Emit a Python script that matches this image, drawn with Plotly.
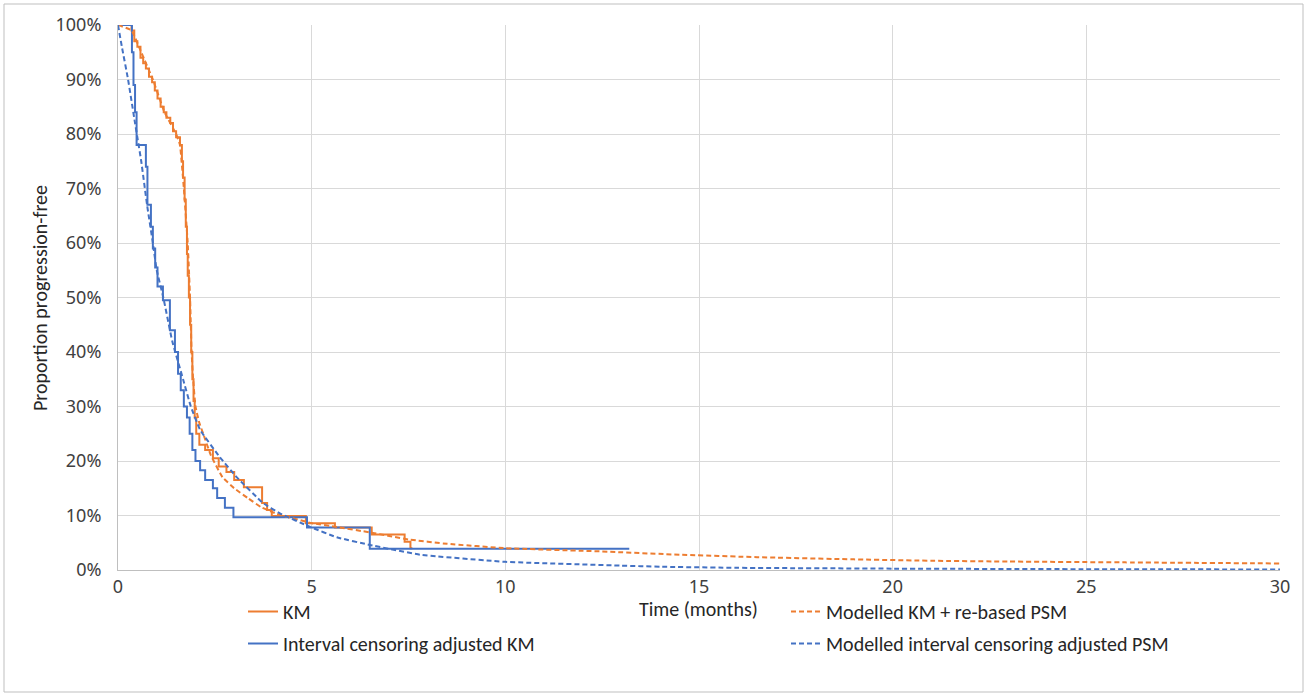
import plotly.graph_objects as go

# Kaplan-Meier estimate (months, % progression-free), step function
km_t = [0, 0.35, 0.42, 0.50, 0.58, 0.65, 0.72, 0.80, 0.88, 0.95, 1.02, 1.10, 1.18,
        1.25, 1.35, 1.42, 1.50, 1.60, 1.65, 1.68, 1.72, 1.75, 1.78, 1.80, 1.83, 1.86,
        1.89, 1.92, 1.95, 1.98, 2.02, 2.10, 2.25, 2.45, 2.60, 2.80, 3.00, 3.25, 3.72,
        3.85, 3.97, 4.85, 5.60, 6.55, 7.40, 7.55, 7.60]
km_s = [100, 99, 97, 96, 94, 93, 92, 90.5, 89.5, 88, 86.5, 85, 84,
        83, 82, 80.5, 79.4, 78, 75, 72, 68, 63, 58, 54, 50, 45,
        40, 35, 31, 28, 25, 23, 22, 20.5, 19, 18, 16.5, 15.2, 12.3,
        11, 9.9, 8.6, 7.8, 6.5, 5.2, 4.0, 4.0]

# Interval censoring adjusted KM
ic_t = [0, 0.36, 0.40, 0.44, 0.48, 0.72, 0.76, 0.85, 0.90, 0.96, 1.02, 1.16, 1.34,
        1.47, 1.55, 1.62, 1.70, 1.78, 1.85, 1.92, 2.00, 2.12, 2.25, 2.45, 2.56, 2.76,
        2.98, 4.88, 6.50, 13.2]
ic_s = [100, 95, 89, 84, 78, 74, 67, 63, 59, 55.5, 52, 49.5, 44,
        40, 36, 33, 30, 28, 25, 22, 20, 18.3, 16.5, 15, 13.2, 11.4,
        9.7, 7.8, 3.9, 3.9]

# Modelled KM + re-based parametric survival model
mkm_t = [0, 0.35, 0.6, 0.9, 1.2, 1.5, 1.6, 1.7, 1.8, 1.86, 1.9, 1.94, 2.0, 2.1, 2.2,
         2.4, 2.7, 3.0, 3.35, 3.7, 4.1, 5.0, 5.65, 6.5, 7.5, 8.5, 10, 12.5, 14.5,
         16.5, 19, 21, 23, 26, 30]
mkm_s = [100, 99, 95, 90, 84, 80, 78, 70, 60, 50, 40, 35, 30, 27, 25,
         21, 17, 15, 13.2, 11.5, 10.3, 8.6, 7.9, 6.9, 5.6, 4.8, 4.0, 3.4, 2.8,
         2.35, 1.95, 1.7, 1.55, 1.4, 1.2]

# Modelled interval censoring adjusted parametric survival model
mic_t = [0, 0.1, 0.26, 0.44, 0.6, 0.75, 0.9, 1.0, 1.17, 1.4, 1.68, 1.88, 2.12, 2.63,
         3.07, 3.74, 4.18, 4.96, 5.65, 6.5, 7.8, 10, 13, 14, 16, 20, 25, 30]
mic_s = [100, 96, 90, 82, 75, 67, 60, 55, 50, 42, 35, 30, 25.7, 20.7,
         17, 12.3, 10.4, 7.9, 6.0, 4.6, 2.8, 1.5, 0.8, 0.6, 0.4, 0.25, 0.15, 0.1]

ORANGE = "#ED7D31"
BLUE = "#4472C4"
TEXT_FONT = dict(family="Carlito, Liberation Sans Narrow, Open Sans, sans-serif",
                 size=20, color="#262626")

# plot area in pixels
L, R, T, B = 118, 1280, 25, 570


def px(xp):
    return (xp - L) / (R - L)


def py(yp):
    return (B - yp) / (B - T)


fig = go.Figure()
fig.add_trace(go.Scatter(x=km_t, y=km_s, mode="lines", name="KM",
                         line=dict(color=ORANGE, width=2, shape="hv"),
                         legend="legend", legendgroup="a"))
fig.add_trace(go.Scatter(x=ic_t, y=ic_s, mode="lines", name="Interval censoring adjusted KM",
                         line=dict(color=BLUE, width=2, shape="hv"),
                         legend="legend", legendgroup="b"))
fig.add_trace(go.Scatter(x=mkm_t, y=mkm_s, mode="lines", name="Modelled KM + re-based PSM",
                         line=dict(color=ORANGE, width=2, dash="5px,3px", shape="spline",
                                   smoothing=0.3),
                         legend="legend2", legendgroup="c"))
fig.add_trace(go.Scatter(x=mic_t, y=mic_s, mode="lines",
                         name="Modelled interval censoring adjusted PSM",
                         line=dict(color=BLUE, width=2, dash="5px,3px", shape="spline",
                                   smoothing=0.3),
                         legend="legend2", legendgroup="d"))

axis_font = dict(family="Noto Sans, Open Sans, sans-serif", size=18, color="#404040")

fig.update_layout(
    width=1308, height=697,
    margin=dict(l=L, r=1308 - R, t=T, b=697 - B),
    paper_bgcolor="white", plot_bgcolor="white",
    showlegend=True,
    xaxis=dict(range=[0, 30], dtick=5, tick0=0, showgrid=True, gridcolor="#D9D9D9",
               gridwidth=1, zeroline=False, showline=True, linecolor="#BFBFBF",
               ticks="", tickfont=axis_font, ticklabelstandoff=0, fixedrange=True),
    yaxis=dict(range=[0, 100], dtick=10, tick0=0, ticksuffix="%", showgrid=True,
               gridcolor="#D9D9D9", gridwidth=1, zeroline=False, showline=True,
               linecolor="#BFBFBF", ticks="", tickfont=axis_font, ticklabelstandoff=12,
               fixedrange=True),
    legend=dict(x=px(243), y=py(592), xanchor="left", yanchor="top",
                orientation="v", font=TEXT_FONT, tracegroupgap=3,
                bgcolor="rgba(0,0,0,0)", itemclick=False),
    legend2=dict(x=px(786), y=py(592), xanchor="left", yanchor="top",
                 orientation="v", font=TEXT_FONT, tracegroupgap=3,
                 bgcolor="rgba(0,0,0,0)", itemclick=False),
    annotations=[
        dict(text="Time (months)", xref="paper", yref="paper", x=px(698),
             y=py(609), xanchor="center", yanchor="middle", showarrow=False,
             font=TEXT_FONT),
        dict(text="Proportion progression-free", xref="paper", yref="paper",
             x=px(40), y=py(298), xanchor="center", yanchor="middle",
             textangle=-90, showarrow=False, font=TEXT_FONT),
    ],
    shapes=[
        dict(type="rect", xref="paper", yref="paper",
             x0=px(4), x1=px(1303), y0=py(692), y1=py(4),
             line=dict(color="#BFBFBF", width=1), fillcolor="rgba(0,0,0,0)", layer="below"),
    ],
)

fig.write_html("out.html")
